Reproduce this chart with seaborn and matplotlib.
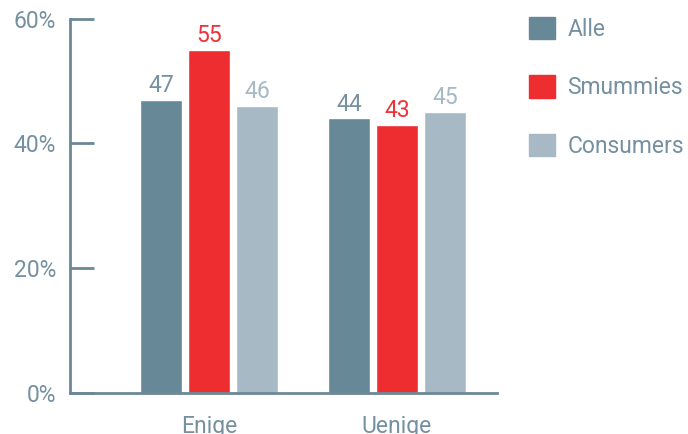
import matplotlib
matplotlib.use("Agg")
import matplotlib.pyplot as plt
from matplotlib.ticker import FuncFormatter
import pandas as pd
import seaborn as sns

categories = ["Enige", "Uenige"]
groups = ["Alle", "Smummies", "Consumers"]
alle = [47, 44]
smummies = [55, 43]
consumers = [46, 45]
y_ticks = [0, 20, 40, 60]

colors = {"Alle": "#678897", "Smummies": "#EE2D30", "Consumers": "#A6B9C4"}
label_colors = {"Alle": "#7590A0", "Smummies": "#EE3338", "Consumers": "#A6B9C4"}
axis_color = "#6C8896"
text_color = "#7590A0"

rows = []
for grp, vals in zip(groups, [alle, smummies, consumers]):
    for cat, v in zip(categories, vals):
        rows.append({"cat": cat, "group": grp, "value": v})
df = pd.DataFrame(rows)

sns.set_theme(style="white")
plt.rcParams["font.family"] = ["Roboto", "DejaVu Sans"]
plt.rcParams["font.weight"] = "normal"

fig = plt.figure(figsize=(6.88, 4.34), dpi=100)
ax = fig.add_axes([70 / 688, 41 / 434, 427 / 688, 374.5 / 434])

sns.barplot(data=df, x="cat", y="value", hue="group", hue_order=groups,
            order=categories, palette=colors, width=0.766, gap=0.125,
            saturation=1, ax=ax, legend=False)

for cont, grp in zip(ax.containers, groups):
    ax.bar_label(cont, fmt="%d", padding=2, fontsize=16.5,
                 color=label_colors[grp])

ax.set_xlim(-0.739, 1.532)
ax.set_ylim(0, 60)
ax.set_yticks(y_ticks)
ax.yaxis.set_major_formatter(FuncFormatter(lambda v, p: f"{v:.0f}%"))
ax.set_xlabel("")
ax.set_ylabel("")

for side in ["top", "right"]:
    ax.spines[side].set_visible(False)
for side in ["left", "bottom"]:
    ax.spines[side].set_color(axis_color)
    ax.spines[side].set_linewidth(2)

ax.tick_params(axis="y", direction="in", length=17, width=2,
               color=axis_color, labelcolor=text_color, labelsize=16.5, pad=10,
               left=True)
ax.tick_params(axis="x", length=0, labelcolor=text_color, labelsize=16.5, pad=16)

handles = [plt.Rectangle((0, 0), 1, 1, color=colors[g]) for g in groups]
fig.legend(handles, groups, loc="upper left",
           bbox_to_anchor=(529 / 688, 1 - 17 / 434),
           frameon=False, fontsize=16.5, handlelength=1.13, handleheight=1.13,
           labelspacing=1.5, handletextpad=0.55, borderpad=0, borderaxespad=0,
           labelcolor=text_color)

fig.savefig("out.png", dpi=100)
